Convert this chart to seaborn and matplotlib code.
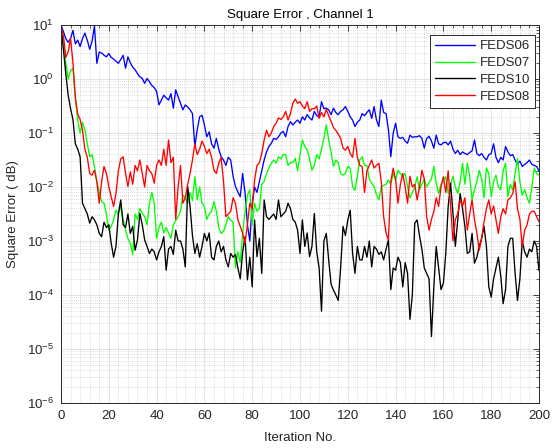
import numpy as np
import pandas as pd
import matplotlib
matplotlib.use("Agg")
import matplotlib.pyplot as plt
import seaborn as sns
from matplotlib.ticker import MultipleLocator, LogLocator, NullFormatter

# ---------------- data (log10 of square error) ----------------
iterations = list(range(201))
series_names = ["FEDS06", "FEDS07", "FEDS10", "FEDS08"]
series_colors = ["#0000ff", "#00ff00", "#000000", "#ff0000"]

feds06_log = [
    1.0, 0.88, 0.75, 0.68, 0.75, 0.9, 0.65, 0.72, 0.6, 0.75,
    0.85, 0.72, 0.55, 0.7, 0.98, 0.29, 0.5, 0.48, 0.44, 0.41,
    0.47, 0.4, 0.37, 0.33, 0.29, 0.36, 0.44, 0.2, 0.41, 0.3,
    0.22, 0.17, 0.1, 0.04, 0.01, -0.08, 0.01, -0.05, -0.12, -0.16,
    -0.23, -0.48, -0.39, -0.3, -0.35, -0.39, -0.27, -0.54, -0.2, -0.33,
    -0.45, -0.57, -0.48, -0.52, -0.57, -0.64, -1.25, -0.94, -0.7, -0.67,
    -0.85, -1.07, -0.98, -1.2, -1.28, -1.1, -1.3, -1.44, -1.5, -1.6,
    -1.45, -1.5, -1.8, -1.99, -2.09, -2.18, -1.75, -2.1, -2.7, -3.0,
    -2.3, -2.0, -2.1, -1.9, -1.7, -1.5, -1.35, -1.25, -1.19, -1.1,
    -1.12, -1.07, -1.0, -0.97, -1.07, -0.88, -0.79, -0.85, -0.8, -0.76,
    -0.82, -0.7, -0.76, -0.66, -0.72, -0.76, -0.6, -0.68, -0.7, -0.42,
    -0.55, -0.54, -0.57, -0.66, -0.54, -0.62, -0.66, -0.6, -0.57, -0.51,
    -0.6, -0.7, -0.76, -0.88, -0.8, -0.76, -0.64, -0.68, -0.62, -0.57,
    -0.73, -0.51, -0.76, -0.88, -0.39, -0.62, -0.64, -0.94, -1.44, -1.0,
    -0.82, -1.07, -1.1, -1.08, -1.15, -1.19, -1.04, -1.08, -1.07, -1.07,
    -1.05, -1.1, -1.28, -1.1, -1.06, -1.15, -1.28, -1.04, -1.2, -1.22,
    -1.18, -1.17, -1.22, -1.15, -1.3, -1.38, -1.32, -1.4, -1.35, -1.38,
    -1.4, -1.36, -1.33, -1.13, -1.38, -1.42, -1.38, -1.45, -1.5, -1.4,
    -1.38, -1.2, -1.45, -1.55, -1.45, -1.5, -1.25, -1.35, -1.42, -1.4,
    -1.5, -1.58, -1.52, -1.62, -1.58, -1.55, -1.5, -1.58, -1.6, -1.62, -1.7,
]

feds07_log = [
    0.97, 0.75, 0.3, 0.0, 0.15, 0.2, -0.35, -0.76, -1.0, -0.8,
    -0.95, -1.2, -1.44, -1.4, -1.62, -1.9, -2.1, -2.27, -2.3, -2.5,
    -2.8, -2.73, -2.61, -2.43, -2.5, -2.36, -2.6, -2.8, -2.95, -3.05,
    -3.25, -2.5, -2.6, -2.4, -2.49, -2.55, -2.7, -2.3, -2.1, -2.3,
    -2.95, -2.75, -2.65, -2.85, -2.75, -2.85, -2.95, -2.7, -2.62, -2.55,
    -2.45, -2.15, -2.2, -2.3, -2.1, -2.25, -1.81, -2.24, -2.0, -2.3,
    -2.36, -2.6, -2.5, -2.45, -2.27, -2.45, -2.75, -2.86, -2.82, -2.7,
    -2.55, -2.62, -2.65, -3.5, -3.2, -3.4, -2.86, -2.45, -2.15, -2.05,
    -2.7, -2.3, -2.45, -2.4, -1.95, -1.9, -1.75, -1.65, -1.56, -1.5,
    -1.56, -1.44, -1.48, -1.4, -1.4, -1.6, -1.55, -1.55, -1.47, -1.7,
    -1.4, -1.13, -1.25, -1.31, -1.48, -1.69, -1.6, -1.4, -1.48, -1.3,
    -1.1, -0.85, -1.13, -1.35, -1.62, -1.5, -1.55, -1.75, -1.78, -1.75,
    -1.62, -1.65, -1.99, -2.06, -1.8, -1.5, -1.44, -1.6, -1.6, -1.85,
    -1.93, -1.99, -2.15, -2.24, -1.99, -1.97, -1.95, -1.87, -1.95, -1.75,
    -1.87, -1.69, -1.75, -1.8, -1.75, -2.0, -2.2, -2.1, -2.0, -1.81,
    -2.05, -1.95, -1.85, -2.0, -1.92, -1.85, -1.62, -1.93, -2.12, -1.95,
    -1.87, -1.81, -2.12, -1.95, -1.8, -2.0, -2.12, -1.9, -1.56, -1.95,
    -1.56, -1.8, -2.24, -2.05, -1.9, -1.69, -1.85, -2.2, -1.65, -1.75,
    -2.18, -1.9, -1.78, -2.0, -2.05, -1.7, -1.56, -2.18, -1.95, -2.05,
    -1.75, -1.47, -1.9, -2.15, -2.05, -2.2, -2.3, -2.0, -1.65, -1.75, -1.78,
]

feds10_log = [
    0.97, 0.55, 0.1, -0.3, -0.55, -0.75, -1.2, -1.3, -1.44, -2.3,
    -2.4, -2.5, -2.67, -2.55, -2.61, -2.7, -2.86, -2.92, -2.65, -2.75,
    -2.7, -3.04, -3.3, -3.1, -2.5, -2.24, -2.7, -2.75, -2.5, -2.86,
    -2.73, -3.17, -2.98, -2.49, -2.7, -2.98, -3.1, -3.23, -3.15, -3.2,
    -3.35, -3.2, -3.1, -2.92, -3.54, -3.15, -3.1, -3.25, -2.8, -3.0,
    -3.0, -3.15, -3.48, -1.99, -2.36, -2.9, -3.23, -3.05, -3.3, -3.1,
    -2.86, -3.0, -2.85, -3.3, -3.35, -3.1, -3.0, -3.2, -3.1, -3.35,
    -3.48, -3.23, -3.3, -3.25, -3.5, -3.7, -3.2, -2.92, -3.72, -3.3,
    -3.85, -2.61, -3.29, -2.95, -3.6, -2.24, -2.55, -2.6, -2.55, -2.5,
    -2.6, -2.24, -2.55, -2.5, -2.45, -2.3, -2.4, -2.6, -2.65, -2.8,
    -3.23, -2.61, -3.1, -2.85, -3.29, -3.1, -2.49, -3.2, -3.5, -4.3,
    -3.0, -2.86, -3.35, -3.8, -3.91, -4.0, -4.1, -3.5, -2.73, -2.9,
    -2.61, -2.43, -3.23, -3.6, -3.1, -3.35, -3.35, -3.1, -3.3, -3.0,
    -3.48, -3.1, -3.15, -3.25, -3.2, -3.35, -3.15, -2.98, -3.9, -3.5,
    -3.54, -3.3, -3.4, -3.85, -3.4, -3.6, -4.45, -4.0, -2.67, -2.61,
    -2.9, -3.15, -3.5, -3.6, -3.7, -4.77, -3.85, -3.1, -3.5, -3.9,
    -3.78, -3.23, -2.36, -1.93, -2.49, -3.1, -2.6, -2.12, -2.4, -2.73,
    -3.23, -3.2, -2.86, -3.41, -3.3, -3.1, -2.95, -2.73, -3.1, -3.85,
    -4.04, -3.7, -3.5, -3.3, -3.65, -4.16, -3.9, -3.1, -2.95, -2.95,
    -3.6, -4.1, -3.7, -3.0, -3.2, -3.3, -3.15, -3.2, -3.0, -3.1, -3.55,
]

feds08_log = [
    0.97, 0.8, 0.4, 0.5, 0.75, 0.3, -0.35, -0.65, -0.75, -0.95,
    -1.3, -1.45, -1.75, -1.78, -1.69, -1.9, -2.3, -1.9, -1.62, -1.75,
    -1.99, -2.18, -2.36, -2.12, -1.7, -1.48, -1.44, -1.75, -1.99, -1.72,
    -1.95, -1.6, -1.7, -1.5, -1.75, -2.0, -1.6, -1.7, -1.75, -1.93,
    -1.6, -1.5, -1.6, -1.3, -1.6, -1.13, -1.55, -1.45, -2.6, -2.0,
    -1.6, -2.3, -2.2, -1.95, -1.75, -1.5, -1.2, -1.4, -1.3, -1.15,
    -1.25, -1.38, -1.3, -1.45, -1.69, -1.75, -1.56, -1.45, -1.9, -2.55,
    -2.5, -2.45, -2.2, -2.3, -2.6, -2.73, -2.86, -3.04, -2.7, -2.3,
    -2.4, -1.87, -1.6, -1.55, -1.38, -1.13, -0.95, -1.07, -1.0, -0.88,
    -0.82, -0.72, -0.75, -0.7, -0.6, -0.76, -0.64, -0.45, -0.37, -0.45,
    -0.42, -0.5, -0.55, -0.42, -0.6, -0.55, -0.55, -0.5, -0.73, -0.62,
    -0.7, -0.56, -0.68, -0.78, -0.9, -0.95, -1.02, -1.1, -1.28, -1.32,
    -1.25, -1.38, -1.45, -1.1, -1.45, -1.6, -1.62, -2.1, -1.7, -1.6,
    -1.5, -1.65, -1.6, -1.56, -1.9, -2.55, -2.85, -2.98, -1.9, -1.65,
    -1.87, -2.3, -1.95, -1.75, -2.0, -2.3, -1.8, -2.0, -1.95, -2.24,
    -2.0, -1.69, -1.85, -2.55, -2.8, -2.6, -2.45, -2.2, -2.36, -2.0,
    -1.81, -2.1, -1.7, -2.36, -3.0, -2.6, -2.5, -2.24, -2.35, -2.2,
    -2.8, -2.5, -2.24, -2.6, -2.85, -3.17, -2.95, -2.65, -2.4, -2.24,
    -2.5, -2.35, -2.6, -2.86, -2.55, -2.4, -2.5, -2.24, -2.2, -2.12,
    -1.9, -2.4, -2.6, -3.1, -2.8, -2.7, -2.5, -2.45, -2.45, -2.55, -2.64,
]

x_ticks = [0, 20, 40, 60, 80, 100, 120, 140, 160, 180, 200]
title_text = "Square Error , Channel 1"
x_label = "Iteration No."
y_label = "Square Error ( dB)"

# ---------------- build long-form table ----------------
frames = []
for name, logs in zip(series_names, [feds06_log, feds07_log, feds10_log, feds08_log]):
    frames.append(pd.DataFrame({
        "Iteration": iterations,
        "Error": np.power(10.0, np.array(logs)),
        "Series": name,
    }))
df = pd.concat(frames, ignore_index=True)

# ---------------- plot ----------------
sns.set_theme(style="white")
plt.rcParams["font.family"] = ["Liberation Sans", "DejaVu Sans"]
plt.rcParams["mathtext.fontset"] = "custom"
plt.rcParams["mathtext.rm"] = "Liberation Sans"
plt.rcParams["mathtext.it"] = "Liberation Sans:italic"

dark = "#262626"
fig, ax = plt.subplots(figsize=(5.53, 4.48), dpi=100)
fig.patch.set_facecolor("white")
fig.subplots_adjust(left=61 / 553, right=539 / 553, bottom=1 - 403 / 448, top=1 - 25 / 448)

sns.lineplot(
    data=df, x="Iteration", y="Error", hue="Series",
    hue_order=series_names, palette=dict(zip(series_names, series_colors)),
    linewidth=0.95, estimator=None, sort=False, ax=ax,
)

ax.set_yscale("log")
ax.set_xlim(0, 200)
ax.set_ylim(1e-6, 10)
ax.set_xticks(x_ticks)
ax.xaxis.set_minor_locator(MultipleLocator(4))
ax.yaxis.set_major_locator(LogLocator(base=10, numticks=20))
ax.yaxis.set_minor_locator(LogLocator(base=10, subs=np.arange(2, 10), numticks=200))
ax.yaxis.set_minor_formatter(NullFormatter())

ax.grid(which="major", color=dark, alpha=0.15, linewidth=0.6, linestyle="-")
ax.grid(which="minor", color=dark, alpha=0.3, linewidth=0.5, linestyle=(0, (1, 2)))
ax.set_axisbelow(True)

ax.tick_params(which="both", direction="in", top=True, right=True,
               colors=dark, labelsize=9.5, labelcolor=dark, pad=5)
ax.tick_params(which="major", length=4, width=0.6)
ax.tick_params(which="minor", length=2, width=0.5)
for sp in ax.spines.values():
    sp.set_color(dark)
    sp.set_linewidth(0.7)

ax.set_title(title_text, fontsize=9.5, color="black", pad=5)
ax.set_xlabel(x_label, fontsize=9.5, color=dark, labelpad=7)
ax.set_ylabel(y_label, fontsize=9.5, color=dark, labelpad=6)

handles, labels = ax.get_legend_handles_labels()
leg = ax.legend(handles, labels, loc="upper right", bbox_to_anchor=(0.992, 0.974),
                borderaxespad=0, frameon=True, fancybox=False, framealpha=1,
                edgecolor=dark, fontsize=9.5, handlelength=3.0, handletextpad=0.35,
                labelspacing=0.35, borderpad=0.4)
leg.get_frame().set_linewidth(0.7)
for line in leg.get_lines():
    line.set_linewidth(1.0)

fig.savefig("out.png", dpi=100, facecolor="white")
